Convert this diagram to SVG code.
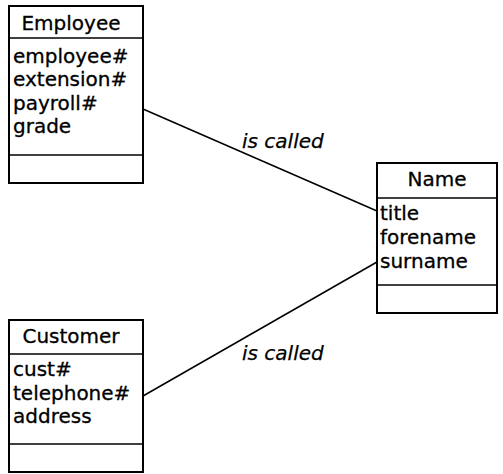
<svg xmlns="http://www.w3.org/2000/svg" width="503" height="474" viewBox="0 0 503 474">
<style>
.box{fill:#fff;stroke:#000;stroke-width:2}
.div{stroke:#000;stroke-width:1.5}
.t{font-family:"DejaVu Sans",sans-serif;font-size:20px;fill:#000;stroke:#000;stroke-width:0.3}
.h{text-anchor:middle}
.lbl{font-family:"DejaVu Sans",sans-serif;font-size:20px;font-style:italic;fill:#000;stroke:#000;stroke-width:0.25}
.conn{stroke:#000;stroke-width:1.5;fill:none}
</style>
<rect width="503" height="474" fill="#fff"/>
<g id="connectors">
<line class="conn" x1="143" y1="109" x2="377" y2="211"/>
<line class="conn" x1="143" y1="396" x2="377" y2="262"/>
<text class="lbl" x="242" y="148">is called</text>
<text class="lbl" x="242" y="360">is called</text>
</g>
<g id="employee">
<rect class="box" x="9" y="6" width="134" height="177"/>
<line class="div" x1="9" y1="38" x2="143" y2="38"/>
<line class="div" x1="9" y1="155" x2="143" y2="155"/>
<text class="t h" x="71" y="30">Employee</text>
<text class="t" x="13" y="63">employee#</text>
<text class="t" x="13" y="86">extension#</text>
<text class="t" x="13" y="110">payroll#</text>
<text class="t" x="13" y="133">grade</text>
</g>
<g id="name">
<rect class="box" x="377" y="163" width="120" height="150"/>
<line class="div" x1="377" y1="198" x2="497" y2="198"/>
<line class="div" x1="377" y1="285" x2="497" y2="285"/>
<text class="t h" x="437" y="186">Name</text>
<text class="t" x="380" y="220">title</text>
<text class="t" x="380" y="244">forename</text>
<text class="t" x="380" y="268">surname</text>
</g>
<g id="customer">
<rect class="box" x="9" y="320" width="134" height="152"/>
<line class="div" x1="9" y1="354" x2="143" y2="354"/>
<line class="div" x1="9" y1="444" x2="143" y2="444"/>
<text class="t h" x="71" y="343">Customer</text>
<text class="t" x="13" y="376">cust#</text>
<text class="t" x="13" y="400">telephone#</text>
<text class="t" x="13" y="423">address</text>
</g>
</svg>
